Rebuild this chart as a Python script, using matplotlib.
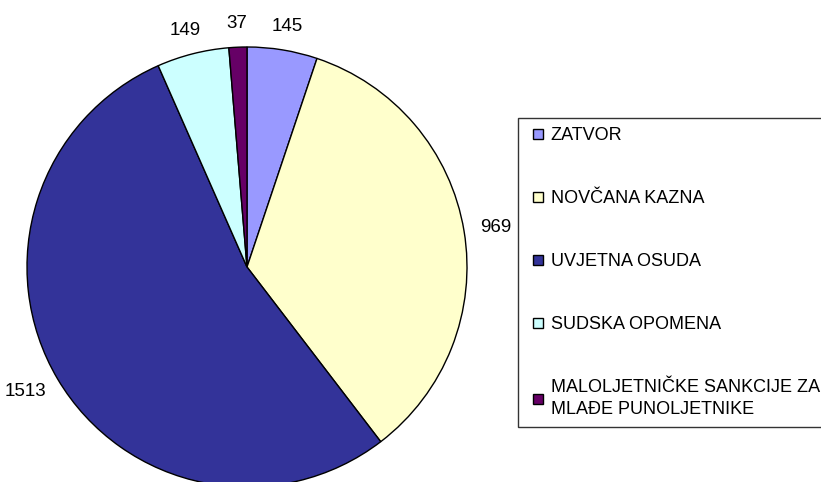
import numpy as np
import matplotlib.pyplot as plt
from matplotlib.lines import Line2D

plt.rcParams['font.family'] = ['Liberation Sans', 'DejaVu Sans']

categories = ["ZATVOR", "NOVČANA KAZNA", "UVJETNA OSUDA", "SUDSKA OPOMENA",
              "MALOLJETNIČKE SANKCIJE ZA\nMLAĐE PUNOLJETNIKE"]
values = [145, 969, 1513, 149, 37]
colors = ["#9999FF", "#FFFFCC", "#333399", "#CCFFFF", "#660066"]

fig = plt.figure(figsize=(8.21, 4.82), dpi=100)
ax = fig.add_axes([0, 0, 1, 1])

cx, cy, r = 247, 215, 220
wedges, _ = ax.pie(values, colors=colors, startangle=90, counterclock=False,
                   center=(cx, cy), radius=r,
                   wedgeprops=dict(edgecolor="black", linewidth=1.0))

# value labels just outside each wedge, pushed outward by half the text size
label_fs = 13.5
fs_px = label_fs * 100 / 72
for w, v in zip(wedges, values):
    ang = np.deg2rad((w.theta1 + w.theta2) / 2)
    d = 1.075 * r
    ax_x = cx + d * np.cos(ang)
    ax_y = cy + d * np.sin(ang)
    tw = len(str(v)) * 0.556 * fs_px
    th = 0.75 * fs_px
    ax.annotate(str(v), (ax_x, ax_y), xytext=(tw / 2 * np.cos(ang), th / 2 * np.sin(ang)),
                textcoords="offset pixels", ha="center", va="center",
                fontsize=label_fs, color="black")

ax.set_xlim(0, 821)
ax.set_ylim(0, 482)
ax.set_aspect("equal")
ax.axis("off")

handles = [Line2D([], [], marker="s", linestyle="none", markersize=7,
                  markerfacecolor=c, markeredgecolor="black", markeredgewidth=1)
           for c in colors]
leg = ax.legend(handles, categories, loc="upper left",
                bbox_to_anchor=(518 / 821, 1 - 118 / 482 - 0.01, 330 / 821, 0.01),
                mode="expand", fontsize=13, frameon=True, fancybox=False,
                edgecolor="black", borderpad=0.5, labelspacing=2.55,
                handlelength=1.27, handletextpad=0.05, borderaxespad=0)
leg.get_frame().set_linewidth(1.0)
leg.get_texts()[-1].set_linespacing(1.4)

fig.savefig("out.png", dpi=100)
